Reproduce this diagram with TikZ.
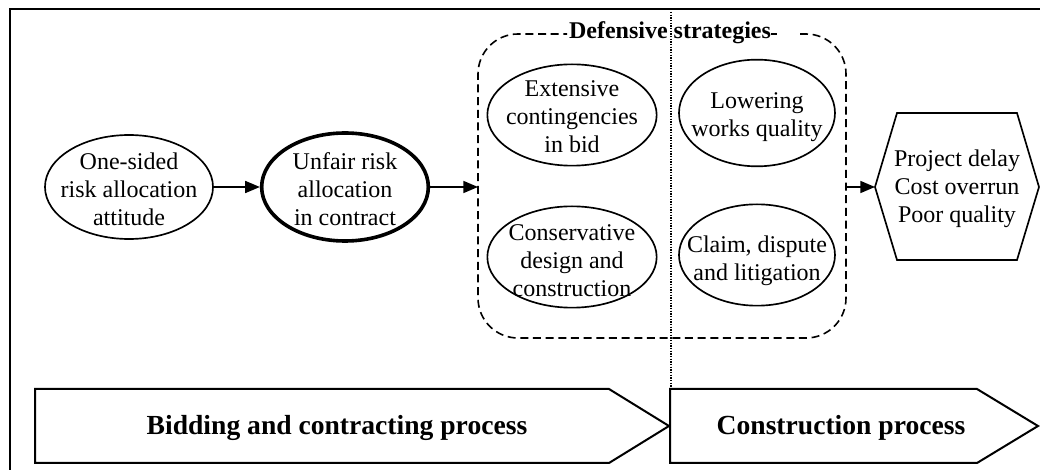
\documentclass[tikz,border=0pt]{standalone}
\usepackage{fontspec}
\setmainfont{Liberation Serif}
\usetikzlibrary{shapes.geometric,arrows.meta}
\begin{document}
\begin{tikzpicture}[x=0.75pt,y=-0.75pt,
  txt/.style={font=\fontsize{18}{21}\selectfont, align=center, inner sep=0pt},
  bigtxt/.style={font=\fontsize{20.7}{24}\selectfont\bfseries, inner sep=0pt},
  ell/.style={ellipse, draw, line width=1.25pt, inner sep=0pt},
  conn/.style={line width=1.2pt, -{Triangle[length=11pt,width=9pt]}},
  dbox/.style={line width=1.2pt, dash pattern=on 6pt off 3.5pt, rounded corners=30pt},
  procarrow/.style={line width=1.5pt, line join=miter},
]
\useasboundingbox (0,0) rectangle (1040,470);
% frame
\draw[line width=1.6pt, line join=miter] (10,476) -- (10,9) -- (1046,9);

% ellipses
\node[ell, minimum width=126pt, minimum height=78pt] (A) at (129,187) {};
\node[txt] (Atxt) at (129,189) {One-sided\\risk allocation\\attitude};
\node[ell, line width=2.7pt, minimum width=125pt, minimum height=81pt] (B) at (345,187) {};
\node[txt] (Btxt) at (345,189) {Unfair risk\\allocation\\in contract};

\node[ell, minimum width=127pt, minimum height=76pt] (C) at (572,115) {};
\node[txt] (Ctxt) at (572,117) {Extensive\\contingencies\\in bid};
\node[ell, minimum width=127pt, minimum height=76pt] (D) at (572,257) {};
\node[txt] (Dtxt) at (572,261) {Conservative\\design and\\construction};
\node[ell, minimum width=117pt, minimum height=80pt] (E) at (757,113) {};
\node[txt] (Etxt) at (757,117) {Lowering\\works quality};
\node[ell, minimum width=117pt, minimum height=76pt] (F) at (757,255) {};
\node[txt] (Ftxt) at (757,261) {Claim, dispute\\and litigation};

% dashed group box
\draw[dbox] (800,34) -- (846,34) -- (846,338) -- (478,338) -- (478,34) -- (567,34);
\draw[line width=1.2pt] (771,34) -- (777,34);
\node[txt, font=\fontsize{18}{21}\selectfont\bfseries] (deflabel) at (670,33) {Defensive strategies};

% dotted divider
\draw[line width=0.9pt, dash pattern=on 1pt off 1pt] (671,12) -- (671,389);

% hexagon
\coordinate (hexL) at (875,187);
\draw[line width=1.25pt, line join=miter] (hexL) -- (897,113) -- (1017,113) -- (1039,187) -- (1017,260) -- (897,260) -- cycle;
\node[txt] (Htxt) at (957,189) {Project delay\\Cost overrun\\Poor quality};

% connectors
\coordinate (boxL) at (478,187);
\coordinate (boxR) at (846,187);
\draw[conn] (A) -- (B);
\draw[conn] (B) -- (boxL);
\draw[conn] (boxR) -- (hexL);

% process arrows
\draw[procarrow] (35,389) -- (609,389) -- (669,426) -- (609,463) -- (35,463) -- cycle;
\draw[procarrow] (670,389) -- (977,389) -- (1038,426) -- (977,463) -- (670,463) -- cycle;
\node[bigtxt] (bidtxt) at (337,428) {Bidding and contracting process};
\node[bigtxt] (contxt) at (841,428) {Construction process};
\end{tikzpicture}
\end{document}
